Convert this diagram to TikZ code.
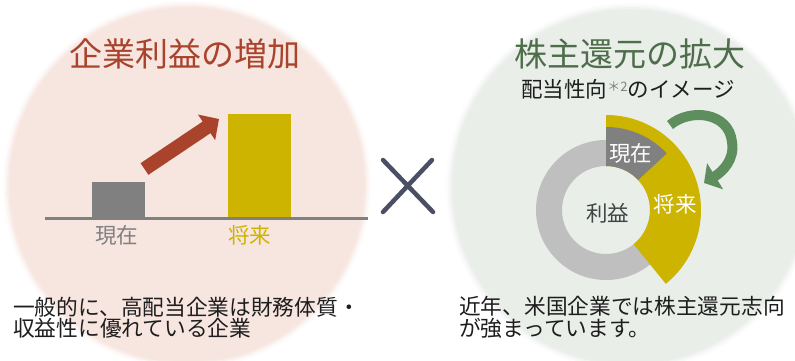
\documentclass[tikz,border=0pt]{standalone}
\usepackage{fontspec}
\setmainfont{Noto Sans CJK JP}
\usetikzlibrary{arrows.meta}
\definecolor{pinkbg}{HTML}{F7E5DF}
\definecolor{greenbg}{HTML}{E9EEE9}
\definecolor{rust}{HTML}{A9432C}
\definecolor{titlegreen}{HTML}{4E6E4B}
\definecolor{arrowgreen}{HTML}{5F8E5E}
\definecolor{gold}{HTML}{CCB400}
\definecolor{midgray}{HTML}{808080}
\definecolor{ringgray}{HTML}{BFBFBF}
\definecolor{crossc}{HTML}{4A4F63}
\definecolor{textc}{HTML}{1E1E1E}
\definecolor{darklbl}{HTML}{3C4646}
\tikzset{
  lbl/.style={inner sep=0pt, font=\fontsize{21.5}{21.5}\selectfont},
  ttl/.style={inner sep=0pt, font=\fontsize{33}{33}\selectfont},
  body/.style={inner sep=0pt, align=left, text=textc, font=\fontsize{21.7}{21.5}\selectfont},
}
\begin{document}
\begin{tikzpicture}[x=1pt,y=1pt]
\useasboundingbox (0,-360) rectangle (795,0);
\clip (0,-360) rectangle (795,0);
\fill[white] (0,-360) rectangle (795,0);
% background circles with soft edge
\coordinate (lc) at (187,-185);
\coordinate (rc) at (630,-187);
\foreach \r/\o in {184/0.12,182/0.25,180/0.45,178/0.7,176/1}{
  \fill[pinkbg, opacity=\o] (lc) circle[radius=\r pt];
  \fill[greenbg, opacity=\o] (rc) circle[radius=\r pt];
}
% titles
\node[ttl, text=rust] (t1) at (185,-53.5) {企業利益の増加};
\node[ttl, text=titlegreen] (t2) at (629.5,-53.5) {株主還元の拡大};
\node[inner sep=0pt, text=textc, font=\fontsize{21.5}{21.5}\selectfont] (sub) at (628,-89)
  {配当性向\raisebox{6pt}{\fontsize{13}{13}\selectfont\color{midgray}＊2}のイメージ};
% bar chart
\fill[midgray] (92,-182) rectangle (145,-218);
\fill[gold] (228,-114) rectangle (291,-218);
\coordinate (b1) at (45,-218);
\coordinate (b2) at (368,-218);
\draw[midgray, line width=3pt] (b1) -- (b2);
\node[lbl, text=midgray] (now) at (116.7,-235) {現在};
\node[lbl, text=gold] (fut) at (249.7,-235) {将来};
\coordinate (ra1) at (144.5,-169);
\coordinate (ra2) at (219,-119);
\draw[rust, line width=14pt, -{Triangle[length=15pt,width=30pt]}] (ra1) -- (ra2);
% multiplication sign
\coordinate (x1) at (383,-160);
\coordinate (x2) at (433,-212);
\coordinate (x3) at (432,-160);
\coordinate (x4) at (383,-212);
\draw[crossc, line width=4.5pt, line cap=round] (x1) -- (x2);
\draw[crossc, line width=4.5pt, line cap=round] (x3) -- (x4);
% donut
\coordinate (dc) at (606,-210);
\fill[ringgray, even odd rule] (dc) circle[radius=70pt] (dc) circle[radius=44pt];
\fill[gold] ([shift={(90:95pt)}]dc) arc[start angle=90, end angle=-51, radius=95pt]
  -- ([shift={(-51:44pt)}]dc) arc[start angle=-51, end angle=90, radius=44pt] -- cycle;
\fill[midgray] ([shift={(90:83pt)}]dc) arc[start angle=90, end angle=43, radius=83pt]
  -- ([shift={(43:44pt)}]dc) arc[start angle=43, end angle=90, radius=44pt] -- cycle;
\node[lbl, text=white] (dnow) at (630.5,-153) {現在};
\node[lbl, text=white] (dfut) at (675,-204) {将来};
\node[lbl, text=darklbl] (dprofit) at (607.5,-213) {利益};
% green curved arrow
\coordinate (ga1) at (670,-125);
\coordinate (ga2) at (732,-142);
\coordinate (ga3) at (704,-183);
\draw[arrowgreen, line width=10pt, -{Triangle[length=13pt,width=30pt]}]
  (ga1) .. controls (690,-108) and (729,-112) .. (ga2)
        .. controls (735,-160) and (722,-172) .. (ga3);
% body texts
\node[body, anchor=west] (bl) at (13,-317.5) {一般的に、高配当企業は財務体質・\\収益性に優れている企業};
\node[body, anchor=west] (br) at (459,-317.5) {近年、米国企業では株主還元志向\\が強まっています。};
\end{tikzpicture}
\end{document}
